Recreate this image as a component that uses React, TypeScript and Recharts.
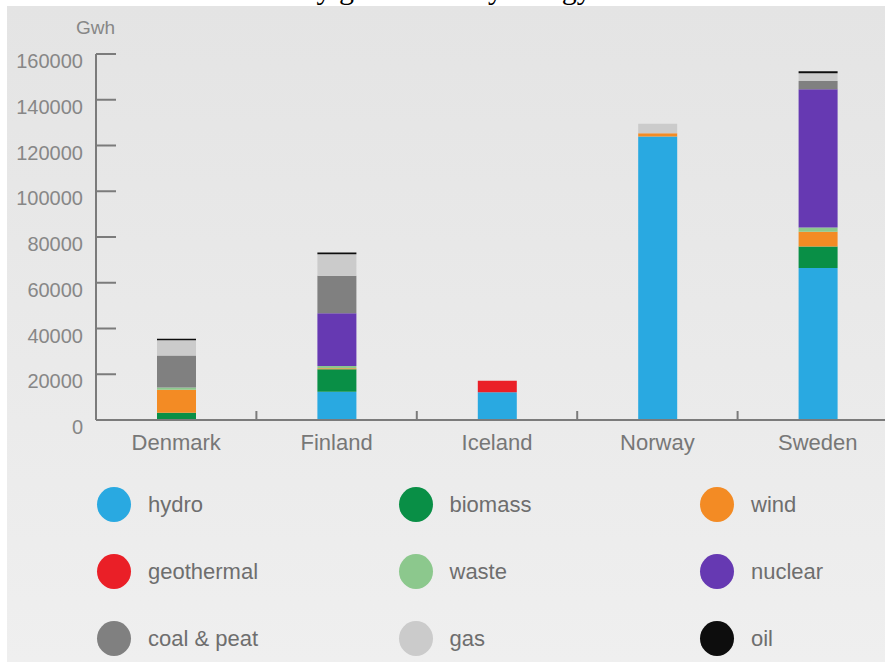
import { BarChart, Bar, XAxis, YAxis } from 'recharts';

const TITLE = 'Electricity generation by energy source';
const UNIT = 'Gwh';

const COUNTRIES = ['Denmark', 'Finland', 'Iceland', 'Norway', 'Sweden'];

// GWh per country
const HYDRO = [0, 12300, 12100, 123900, 66400];
const BIOMASS = [3200, 9900, 0, 0, 9400];
const WIND = [10000, 400, 0, 1500, 6500];
const GEOTHERMAL = [0, 0, 5100, 0, 0];
const WASTE = [1000, 1000, 0, 0, 1800];
const NUCLEAR = [0, 23100, 0, 0, 60500];
const COAL_PEAT = [14000, 16400, 0, 0, 3600];
const GAS = [6700, 9400, 0, 4100, 3400];
const OIL = [600, 700, 0, 0, 900];

const Y_TICKS = [0, 20000, 40000, 60000, 80000, 100000, 120000, 140000, 160000];

const SERIES = [
    { key: 'hydro', name: 'hydro', color: '#29a9e1', values: HYDRO },
    { key: 'biomass', name: 'biomass', color: '#098f46', values: BIOMASS },
    { key: 'wind', name: 'wind', color: '#f38b24', values: WIND },
    { key: 'geothermal', name: 'geothermal', color: '#ea1f27', values: GEOTHERMAL },
    { key: 'waste', name: 'waste', color: '#8cc88d', values: WASTE },
    { key: 'nuclear', name: 'nuclear', color: '#6639b2', values: NUCLEAR },
    { key: 'coal', name: 'coal & peat', color: '#808080', values: COAL_PEAT },
    { key: 'gas', name: 'gas', color: '#cbcbcb', values: GAS },
    { key: 'oil', name: 'oil', color: '#0d0d0d', values: OIL },
];

const data = COUNTRIES.map((c, i) => {
    const row: Record<string, string | number> = { country: c };
    SERIES.forEach(s => { row[s.key] = s.values[i]; });
    return row;
});

const CHART_W = 905;
const CHART_H = 470;
const MARGIN = { top: 54, right: 7, bottom: 0, left: 0 };
const Y_AXIS_W = 96;
const BAND = (CHART_W - MARGIN.left - MARGIN.right - Y_AXIS_W) / COUNTRIES.length;
const AXIS = '#7b7b7b';
const FONT = '"Liberation Sans", Arial, sans-serif';

const YTick = (props: any) => {
    const { x, y, payload } = props;
    return (
        <g>
            {payload.value !== 0 && (
                <line x1={x} x2={x + 20} y1={y} y2={y} stroke={AXIS} strokeWidth={2} />
            )}
            <text x={x - 13} y={y + 14} textAnchor="end" fontSize={20} fill="#878787" fontFamily={FONT}>
                {payload.value}
            </text>
        </g>
    );
};

const XTick = (props: any) => {
    const { x, y, payload } = props;
    return (
        <g>
            <line x1={x + BAND / 2} x2={x + BAND / 2} y1={y} y2={y - 9} stroke={AXIS} strokeWidth={2} />
            <text x={x} y={y + 30} textAnchor="middle" fontSize={22} fill="#777777" fontFamily={FONT}>
                {payload.value}
            </text>
        </g>
    );
};

const UnitLabel = (props: any) => {
    const vb = props.viewBox || {};
    return (
        <text x={vb.x + vb.width + 19} y={vb.y - 20} textAnchor="end" fontSize={19} fill="#878787" fontFamily={FONT}>
            {UNIT}
        </text>
    );
};

export default function App() {
    return (
        <div style={{ position: 'relative', width: 885, height: 662, overflow: 'hidden', background: '#fff' }}>
            <style>{'body{margin:0}'}</style>
            {/* title sits above the frame, only its descenders show */}
            <svg width={885} height={8} style={{ position: 'absolute', left: 0, top: 0 }}>
                <text x={442} y={-1} textAnchor="middle" fontFamily="serif" fontSize={30} fill="#000">{TITLE}</text>
            </svg>
            <div style={{
                position: 'absolute', left: 7, top: 6, right: 0, bottom: 0,
                background: 'linear-gradient(#e4e4e4, #efefef)',
            }} />
            <div style={{ position: 'absolute', left: 0, top: 0 }}>
                <BarChart width={CHART_W} height={CHART_H} data={data} margin={MARGIN} barSize={39}>
                    <XAxis
                        dataKey="country"
                        height={50}
                        axisLine={{ stroke: AXIS, strokeWidth: 2 }}
                        tickLine={false}
                        tickSize={0}
                        tickMargin={0}
                        tick={<XTick />}
                        interval={0}
                    />
                    <YAxis
                        width={Y_AXIS_W}
                        domain={[0, 160000]}
                        ticks={Y_TICKS}
                        axisLine={{ stroke: AXIS, strokeWidth: 2 }}
                        tickLine={false}
                        tickSize={0}
                        tickMargin={0}
                        tick={<YTick />}
                        interval={0}
                        label={<UnitLabel />}
                    />
                    {SERIES.map(s => (
                        <Bar key={s.key} dataKey={s.key} name={s.name} stackId="a" fill={s.color} isAnimationActive={false} />
                    ))}
                </BarChart>
            </div>
            {SERIES.map((s, i) => (
                <div
                    key={s.key}
                    style={{
                        position: 'absolute',
                        left: 97 + (i % 3) * 301.5,
                        top: 487 + Math.floor(i / 3) * 67,
                        display: 'flex',
                        alignItems: 'center',
                        height: 35,
                    }}
                >
                    <span style={{ width: 34, height: 35, borderRadius: '50%', background: s.color, display: 'inline-block' }} />
                    <span style={{ marginLeft: 17, fontFamily: FONT, fontSize: 22, color: '#6e6e6e' }}>{s.name}</span>
                </div>
            ))}
        </div>
    );
}
